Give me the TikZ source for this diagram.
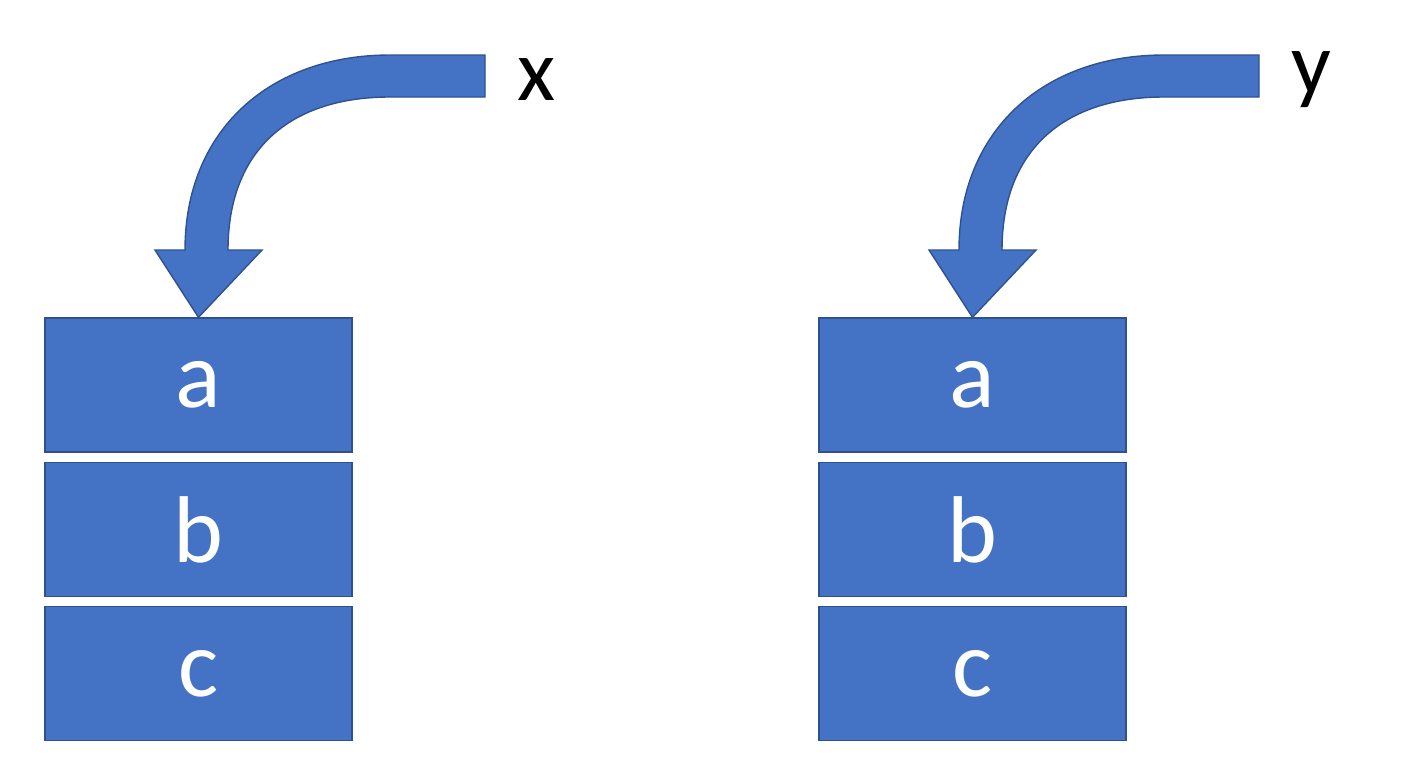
\documentclass[tikz,border=0pt]{standalone}
\usepackage{fontspec}
\setmainfont{Carlito}
\usetikzlibrary{positioning}
\definecolor{boxblue}{HTML}{4472C4}
\definecolor{edgeblue}{HTML}{2F528F}
\tikzset{
  cell/.style={draw=edgeblue, line width=0.8pt, fill=boxblue, text=white,
    minimum width=6.14cm, minimum height=2.68cm, inner sep=0pt,
    font=\fontsize{54}{60}\selectfont},
  lbl/.style={font=\fontsize{50}{56}\selectfont, text=black},
  curvedarrow/.style={draw=edgeblue, line width=0.8pt, fill=boxblue}
}
\begin{document}
\begin{tikzpicture}[x=0.02cm,y=-0.02cm]
\useasboundingbox (0,0) rectangle (1408,768);
\foreach \dx/\v in {0/x, 774/y}{
  \begin{scope}[xshift=\dx*0.02cm]
  % stack
  \node[cell] (a) at (198.5,385) {a};
  \node[cell, below=0.18cm of a] (b) {b};
  \node[cell, below=0.18cm of b] (c) {c};
  \node[lbl] (var) at (537,80) {\v};
  % curved block arrow
  \path[curvedarrow] (485,55) -- (390,55) .. controls (270,55) and (185,130) .. (185,250)
    -- (155,250) -- (a.north) -- (262,250) -- (228,250)
    .. controls (228,150) and (290,97) .. (390,97) -- (485,97) -- cycle;
  \end{scope}
}
\end{tikzpicture}
\end{document}
